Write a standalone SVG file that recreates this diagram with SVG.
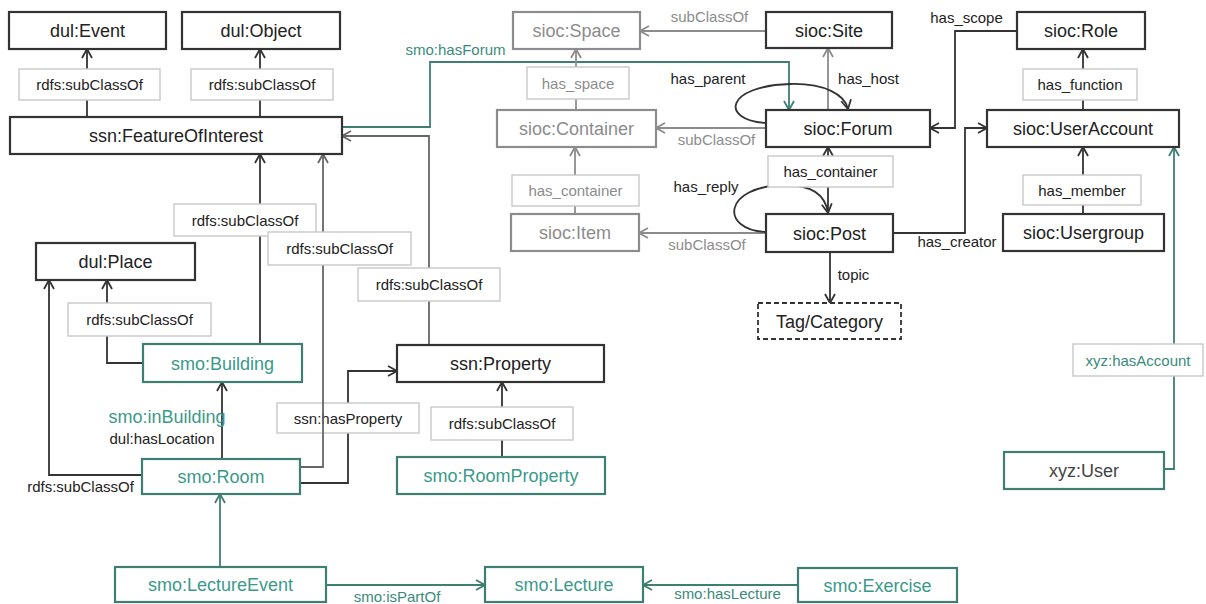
<svg xmlns="http://www.w3.org/2000/svg" width="1206" height="604" viewBox="0 0 1206 604">
  <style>
    text { font-family: "Liberation Sans", Arial, sans-serif; }
    .node rect { fill: #fff; stroke: #333; stroke-width: 2.2; }
    .node text { font-size: 18px; fill: #222; text-anchor: middle; }
    .node.grey rect { stroke: #8c8c8c; }
    .node.grey text { fill: #8c8c8c; }
    .node.teal rect { stroke: #3e7f72; }
    .node.teal text { fill: #3a9a8a; }
    .node.dash rect { stroke-dasharray: 5 3; stroke-width: 1.8; }
    .lbl rect { fill: #fff; stroke: #c8c8c8; stroke-width: 1.4; }
    .lbl text, .et { font-size: 15px; fill: #222; text-anchor: middle; }
    .lbl.grey text, .et.grey { fill: #8c8c8c; }
    .lbl.teal text, .et.teal { fill: #3a8a7c; }
    .c { fill: none; stroke-width: 1.8; }
    .k { stroke: #333; }
    .d { stroke: #666; }
    .g { stroke: #8c8c8c; }
    .t { stroke: #3e7f72; }
  </style>
  <defs>
    <marker id="ak" viewBox="0 0 12 12" refX="11" refY="6" markerWidth="12" markerHeight="12" markerUnits="userSpaceOnUse" orient="auto">
      <path d="M2,1 L11,6 L2,11" fill="none" stroke="#333" stroke-width="1.8"/>
    </marker>
    <marker id="ad" viewBox="0 0 12 12" refX="11" refY="6" markerWidth="12" markerHeight="12" markerUnits="userSpaceOnUse" orient="auto">
      <path d="M2,1 L11,6 L2,11" fill="none" stroke="#666" stroke-width="1.8"/>
    </marker>
    <marker id="ag" viewBox="0 0 12 12" refX="11" refY="6" markerWidth="12" markerHeight="12" markerUnits="userSpaceOnUse" orient="auto">
      <path d="M2,1 L11,6 L2,11" fill="none" stroke="#8c8c8c" stroke-width="1.8"/>
    </marker>
    <marker id="at" viewBox="0 0 12 12" refX="11" refY="6" markerWidth="12" markerHeight="12" markerUnits="userSpaceOnUse" orient="auto">
      <path d="M2,1 L11,6 L2,11" fill="none" stroke="#3e7f72" stroke-width="1.8"/>
    </marker>
  </defs>

  <rect width="1206" height="604" fill="#fff"/>

  <!-- connectors and their labels -->
  <g id="connectors">
    <!-- SSN / DUL side -->
    <path class="c k" d="M87,117 V49" marker-end="url(#ak)"/>
    <path class="c k" d="M260,117 V49" marker-end="url(#ak)"/>
    <path class="c k" d="M260,344 V154" marker-end="url(#ak)"/>
    <path class="c d" d="M429,345 V136 H342" marker-end="url(#ad)"/>
    <path class="c t" d="M342,127 H430 V62 H789 V110" marker-end="url(#at)"/>
    <path class="c k" d="M143,363 H107 V280" marker-end="url(#ak)"/>
    <path class="c k" d="M142,475 H49 V280" marker-end="url(#ak)"/>
    <path class="c k" d="M222,459 V382" marker-end="url(#ak)"/>
    <path class="c k" d="M300,483 H348 V371 H397" marker-end="url(#ak)"/>
    <g class="lbl"><rect x="277" y="403" width="142" height="30"/><text x="348" y="423.5">ssn:hasProperty</text></g>
    <path class="c d" d="M300,467 H323 V154" marker-end="url(#ad)"/>
    <path class="c k" d="M502,457 V382" marker-end="url(#ak)"/>
    <path class="c t" d="M220,567 V494" marker-end="url(#at)"/>
    <path class="c t" d="M326,585 H485" marker-end="url(#at)"/>
    <path class="c t" d="M798,585 H643" marker-end="url(#at)"/>

    <!-- SIOC side -->
    <path class="c g" d="M766,31 H640" marker-end="url(#ag)"/>
    <path class="c g" d="M576,110 V49" marker-end="url(#ag)"/>
    <path class="c g" d="M766,128 H656" marker-end="url(#ag)"/>
    <path class="c g" d="M828,110 V48" marker-end="url(#ag)"/>
    <path class="c k" d="M766,123 C720,120 725,86 790,84 C825,83 845,95 848,109" marker-end="url(#ak)"/>
    <path class="c g" d="M575,214 V147" marker-end="url(#ag)"/>
    <path class="c g" d="M766,233 H639" marker-end="url(#ag)"/>
    <path class="c k" d="M828,214 V147" marker-end="url(#ak)"/>
    <path class="c k" d="M766,232 C720,230 722,186 785,185 C815,185 826,198 828,213" marker-end="url(#ak)"/>
    <path class="c k" d="M830,252 V303" marker-end="url(#ak)"/>
    <path class="c k" d="M893,233 H965 V128 H987" marker-end="url(#ak)"/>
    <path class="c k" d="M1017,31 H955 V128 H930" marker-end="url(#ak)"/>
    <path class="c k" d="M1083,110 V49" marker-end="url(#ak)"/>
    <path class="c k" d="M1083,214 V147" marker-end="url(#ak)"/>
    <path class="c t" d="M1164,469 H1174 V147" marker-end="url(#at)"/>

    <!-- boxed edge labels -->
    <g class="lbl"><rect x="19" y="69" width="141" height="31"/><text x="89.5" y="90">rdfs:subClassOf</text></g>
    <g class="lbl"><rect x="191" y="69" width="142" height="31"/><text x="262" y="90">rdfs:subClassOf</text></g>
    <g class="lbl"><rect x="174" y="204" width="142" height="32"/><text x="245" y="225.5">rdfs:subClassOf</text></g>
    <g class="lbl"><rect x="268" y="232" width="143" height="33"/><text x="339.5" y="254">rdfs:subClassOf</text></g>
    <g class="lbl"><rect x="358" y="268" width="142" height="33"/><text x="429" y="290">rdfs:subClassOf</text></g>
    <g class="lbl"><rect x="68" y="303" width="143" height="33"/><text x="139.5" y="325">rdfs:subClassOf</text></g>
    <g class="lbl"><rect x="431" y="407" width="142" height="33"/><text x="502" y="429">rdfs:subClassOf</text></g>
    <g class="lbl grey"><rect x="527" y="67" width="102" height="32"/><text x="578" y="88.5">has_space</text></g>
    <g class="lbl grey"><rect x="512" y="175" width="127" height="31"/><text x="575.5" y="196">has_container</text></g>
    <g class="lbl"><rect x="768" y="156" width="125" height="31"/><text x="830.5" y="177">has_container</text></g>
    <g class="lbl"><rect x="1023" y="69" width="114" height="31"/><text x="1080" y="90">has_function</text></g>
    <g class="lbl"><rect x="1023" y="175" width="118" height="30"/><text x="1082" y="195.5">has_member</text></g>
    <g class="lbl teal"><rect x="1073" y="344" width="130" height="32"/><text x="1138" y="365.5">xyz:hasAccount</text></g>

    <!-- plain edge labels -->
    <text class="et teal" x="455.5" y="55">smo:hasForum</text>
    <text class="et grey" x="709.5" y="22">subClassOf</text>
    <text class="et" x="708" y="84">has_parent</text>
    <text class="et" x="868.5" y="84">has_host</text>
    <text class="et grey" x="716.5" y="145">subClassOf</text>
    <text class="et" x="706" y="192">has_reply</text>
    <text class="et grey" x="707" y="250">subClassOf</text>
    <text class="et" x="853.5" y="280">topic</text>
    <text class="et" x="957" y="247">has_creator</text>
    <text class="et" x="966.5" y="23">has_scope</text>
    <text class="et" x="80.5" y="492">rdfs:subClassOf</text>
    <text class="et teal" x="167" y="423" style="font-size:18px;fill:#3a9a8a">smo:inBuilding</text>
    <text class="et" x="162" y="444">dul:hasLocation</text>
    <text class="et teal" x="397" y="602">smo:isPartOf</text>
    <text class="et teal" x="727.5" y="599">smo:hasLecture</text>
  </g>

  <!-- nodes -->
  <g id="n-dul-event" class="node"><rect x="9" y="12" width="157" height="37"/><text x="87.5" y="37">dul:Event</text></g>
  <g id="n-dul-object" class="node"><rect x="182" y="12" width="158" height="37"/><text x="261" y="37">dul:Object</text></g>
  <g id="n-ssn-foi" class="node"><rect x="10" y="117" width="332" height="37"/><text x="176" y="142">ssn:FeatureOfInterest</text></g>
  <g id="n-dul-place" class="node"><rect x="36" y="243" width="159" height="37"/><text x="115.5" y="268">dul:Place</text></g>
  <g id="n-smo-building" class="node teal"><rect x="143" y="344" width="159" height="38"/><text x="222.5" y="369.5">smo:Building</text></g>
  <g id="n-ssn-property" class="node"><rect x="397" y="345" width="207" height="37"/><text x="500.5" y="370">ssn:Property</text></g>
  <g id="n-smo-room" class="node teal"><rect x="142" y="459" width="158" height="35"/><text x="221" y="483">smo:Room</text></g>
  <g id="n-smo-roomproperty" class="node teal"><rect x="397" y="457" width="208" height="37"/><text x="501" y="482">smo:RoomProperty</text></g>
  <g id="n-smo-lectureevent" class="node teal"><rect x="115" y="567" width="211" height="35"/><text x="220.5" y="591">smo:LectureEvent</text></g>
  <g id="n-smo-lecture" class="node teal"><rect x="485" y="567" width="158" height="35"/><text x="564" y="591">smo:Lecture</text></g>
  <g id="n-smo-exercise" class="node teal"><rect x="798" y="568" width="159" height="34"/><text x="877.5" y="591.5">smo:Exercise</text></g>
  <g id="n-sioc-space" class="node grey"><rect x="513" y="12" width="127" height="37"/><text x="576.5" y="37">sioc:Space</text></g>
  <g id="n-sioc-site" class="node"><rect x="766" y="12" width="126" height="36"/><text x="829" y="36.5">sioc:Site</text></g>
  <g id="n-sioc-container" class="node grey"><rect x="497" y="110" width="159" height="37"/><text x="576.5" y="135">sioc:Container</text></g>
  <g id="n-sioc-forum" class="node"><rect x="766" y="110" width="164" height="37"/><text x="848" y="135">sioc:Forum</text></g>
  <g id="n-sioc-item" class="node grey"><rect x="511" y="214" width="128" height="37"/><text x="575" y="239">sioc:Item</text></g>
  <g id="n-sioc-post" class="node"><rect x="766" y="214" width="127" height="38"/><text x="829.5" y="239.5">sioc:Post</text></g>
  <g id="n-tag-category" class="node dash"><rect x="758" y="303" width="143" height="36"/><text x="829.5" y="327.5">Tag/Category</text></g>
  <g id="n-sioc-role" class="node"><rect x="1017" y="12" width="128" height="37"/><text x="1081" y="37">sioc:Role</text></g>
  <g id="n-sioc-useraccount" class="node"><rect x="987" y="110" width="192" height="37"/><text x="1083" y="135">sioc:UserAccount</text></g>
  <g id="n-sioc-usergroup" class="node"><rect x="1003" y="214" width="161" height="37"/><text x="1083.5" y="239">sioc:Usergroup</text></g>
  <g id="n-xyz-user" class="node teal"><rect x="1004" y="452" width="160" height="37"/><text x="1084" y="477" style="fill:#444">xyz:User</text></g>
</svg>
